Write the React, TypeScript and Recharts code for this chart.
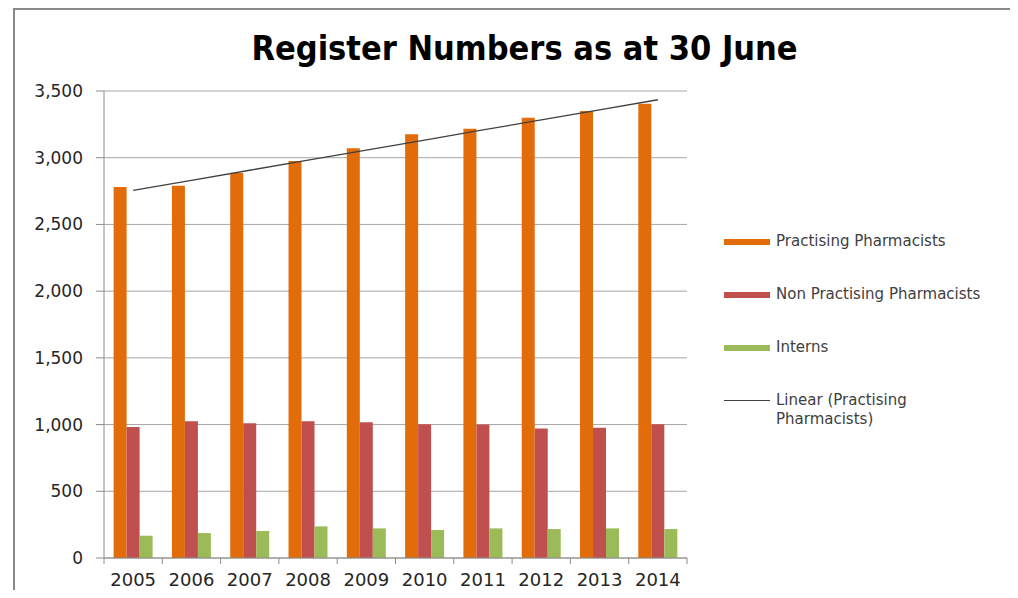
import React from 'react';
import {
  ComposedChart, Bar, Line, XAxis, YAxis, CartesianGrid
} from 'recharts';

const years = ['2005', '2006', '2007', '2008', '2009', '2010', '2011', '2012', '2013', '2014'];
const practising = [2780, 2790, 2885, 2975, 3070, 3175, 3218, 3300, 3350, 3405];
const nonPractising = [982, 1025, 1010, 1025, 1018, 1002, 1000, 970, 977, 1002];
const interns = [167, 187, 202, 237, 222, 210, 222, 217, 222, 217];
const yTicks = [0, 500, 1000, 1500, 2000, 2500, 3000, 3500];

// least squares trend of practising pharmacists, like Excel's "Linear" trendline
const n = practising.length;
const meanX = (n - 1) / 2;
const meanY = practising.reduce((s, v) => s + v, 0) / n;
let sxy = 0;
let sxx = 0;
practising.forEach((v, i) => {
  sxy += (i - meanX) * (v - meanY);
  sxx += (i - meanX) * (i - meanX);
});
const slope = sxy / sxx;
const intercept = meanY - slope * meanX;

const data = years.map((year, i) => ({
  year,
  practising: practising[i],
  nonPractising: nonPractising[i],
  interns: interns[i],
  trend: intercept + slope * i,
}));

const W = 1010;
const H = 590;
const margin = { top: 83, right: 331, bottom: 0, left: 0 };
const yAxisWidth = 96;
const plotWidth = W - margin.left - margin.right - yAxisWidth;
const band = plotWidth / years.length;

const axisGray = '#8c8c8c';
const font = '"DejaVu Sans", sans-serif';

const legendItems = [
  { label: 'Practising Pharmacists', color: '#E36C0A', kind: 'bar' },
  { label: 'Non Practising Pharmacists', color: '#C0504D', kind: 'bar' },
  { label: 'Interns', color: '#9BBB59', kind: 'bar' },
  { label: 'Linear (Practising Pharmacists)', color: '#404040', kind: 'line' },
];

const YearTick = (props: any) => {
  const { x, y, payload, index } = props;
  const left = x - band / 2;
  return (
    <g>
      <line x1={left} y1={y} x2={left} y2={y + 6} stroke={axisGray} />
      {index === years.length - 1 && (
        <line x1={left + band} y1={y} x2={left + band} y2={y + 6} stroke={axisGray} />
      )}
      <text x={x} y={y + 23} textAnchor="middle" dominantBaseline="middle"
        fontSize={18} fill="#262626" fontFamily={font}>
        {payload.value}
      </text>
    </g>
  );
};

const LegendBox = () => (
  <div style={{ fontFamily: font, fontSize: 15, color: '#404040' }}>
    {legendItems.map((item, i) => (
      <div key={item.label} style={{ display: 'flex', alignItems: 'flex-start', height: 53 }}>
        <div style={{ width: 46, height: 19, marginRight: 6, display: 'flex', alignItems: 'center' }}>
          <div style={{
            width: 46,
            height: item.kind === 'bar' ? 6 : 1.3,
            background: item.color,
          }} />
        </div>
        <div style={{ lineHeight: '19px', whiteSpace: 'nowrap' }}>
          {i === 3 ? <>Linear (Practising<br />Pharmacists)</> : item.label}
        </div>
      </div>
    ))}
  </div>
);

export default function App() {
  return (
    <div style={{ position: 'relative', width: W, height: H, marginBottom: -8 }}>
      <div style={{
        position: 'absolute', left: 5, top: 0, width: 1010, height: 600,
        borderTop: '2px solid #8a8a8a', borderLeft: '2px solid #8a8a8a',
      }} />
      <div style={{
        position: 'absolute', left: 0, width: 1033, top: 20, textAlign: 'center',
        fontFamily: '"DejaVu Sans Condensed", "DejaVu Sans", sans-serif',
        fontWeight: 'bold', fontSize: 34, color: '#000',
      }}>
        Register Numbers as at 30 June
      </div>
      <div style={{ position: 'absolute', left: 0, top: 0 }}>
        <ComposedChart width={W} height={H} data={data} margin={margin}
          barGap={0} barCategoryGap="16.5%">
          <CartesianGrid vertical={false} stroke="#a6a6a6" />
          <XAxis dataKey="year" height={40} tickSize={0} tickMargin={0}
            axisLine={{ stroke: axisGray }} tick={<YearTick />} interval={0} />
          <YAxis width={yAxisWidth} domain={[0, 3500]} ticks={yTicks} tickSize={8} tickMargin={13}
            axisLine={{ stroke: axisGray }} tickLine={{ stroke: axisGray }}
            tick={{ fontSize: 17, fill: '#262626', fontFamily: font }}
            tickFormatter={(v: number) => v.toLocaleString('en-US')} />
          <Bar dataKey="practising" fill="#E36C0A" isAnimationActive={false} />
          <Bar dataKey="nonPractising" fill="#C0504D" isAnimationActive={false} />
          <Bar dataKey="interns" fill="#9BBB59" isAnimationActive={false} />
          <Line dataKey="trend" stroke="#404040" strokeWidth={1.3} dot={false}
            activeDot={false} isAnimationActive={false} />
        </ComposedChart>
      </div>
      <div style={{ position: 'absolute', left: 716, top: 224 }}>
        <LegendBox />
      </div>
    </div>
  );
}
